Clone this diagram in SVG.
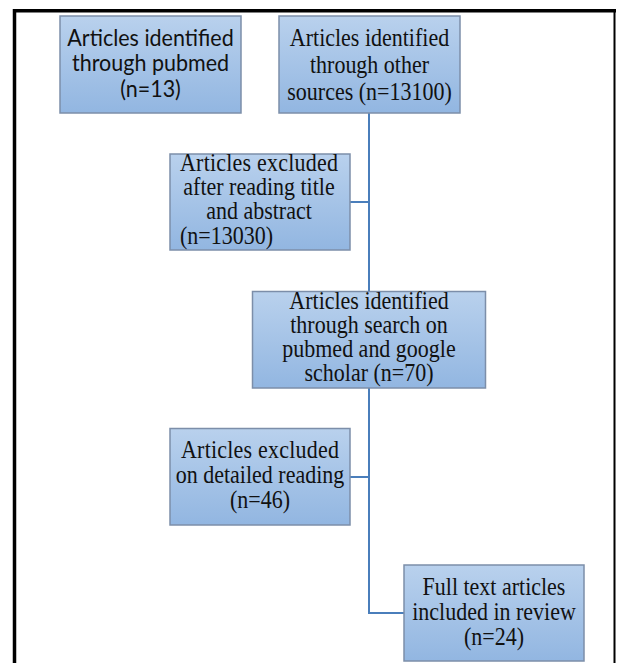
<svg xmlns="http://www.w3.org/2000/svg" width="618" height="663" viewBox="0 0 618 663">
<defs>
<linearGradient id="g" x1="0" y1="0" x2="0" y2="1">
<stop offset="0" stop-color="#b9d1ed"/>
<stop offset="1" stop-color="#92b6e1"/>
</linearGradient>
<style>
.box{fill:url(#g);stroke:#7c8ea9;stroke-width:1.5}
.t{font-family:"Liberation Serif","Times New Roman",serif;font-size:22px;fill:#111;text-anchor:middle}
.l{text-anchor:start}
.s{font-family:Lato,"Liberation Sans",sans-serif;font-size:21.5px;fill:#111;text-anchor:middle}
.c{stroke:#4a7ebb;stroke-width:2;fill:none}
</style>
</defs>
<rect width="618" height="663" fill="#fff"/>
<g id="frame" stroke="#000" fill="none">
<line x1="14.5" y1="9" x2="14.5" y2="663" stroke-width="3.5"/>
<line x1="13" y1="10.8" x2="616" y2="10.8" stroke-width="3.5"/>
<line x1="614.5" y1="10" x2="614.5" y2="663" stroke-width="2"/>
</g>
<g id="connectors" class="c">
<path d="M369 113 V291"/>
<path d="M350 202 H369"/>
<path d="M369 388 V613 H404"/>
<path d="M350 477 H369"/>
</g>
<g id="n1">
<rect class="box" x="60" y="16" width="181" height="97"/>
<text class="s" transform="translate(150.5,46) scale(1,1.05)">Articles identified</text>
<text class="s" transform="translate(150.5,71) scale(1,1.05)">through pubmed</text>
<text class="s" transform="translate(150.5,97) scale(1,1.05)">(n=13)</text>
</g>
<g id="n2">
<rect class="box" x="279" y="16" width="181" height="97"/>
<text class="t" transform="translate(369.5,46) scale(1,1.1)">Articles identified</text>
<text class="t" transform="translate(369.5,73) scale(1,1.1)">through other</text>
<text class="t" transform="translate(369.5,100) scale(1,1.1)">sources (n=13100)</text>
</g>
<g id="n3">
<rect class="box" x="170" y="154" width="180" height="96"/>
<text class="t" transform="translate(259,171) scale(1,1.1)" textLength="158" lengthAdjust="spacing">Articles excluded</text>
<text class="t" transform="translate(259,195) scale(1,1.1)">after reading title</text>
<text class="t" transform="translate(259,219) scale(1,1.1)">and abstract</text>
<text class="t l" transform="translate(180,244) scale(1,1.1)">(n=13030)</text>
</g>
<g id="n4">
<rect class="box" x="252.5" y="291.5" width="233" height="96.5"/>
<text class="t" transform="translate(369,309) scale(1,1.1)">Articles identified</text>
<text class="t" transform="translate(369,333) scale(1,1.1)">through search on</text>
<text class="t" transform="translate(369,357) scale(1,1.1)">pubmed and google</text>
<text class="t" transform="translate(369,381) scale(1,1.1)">scholar (n=70)</text>
</g>
<g id="n5">
<rect class="box" x="170" y="428.5" width="180" height="96.5"/>
<text class="t" transform="translate(260,458) scale(1,1.1)" textLength="158" lengthAdjust="spacing">Articles excluded</text>
<text class="t" transform="translate(260,483) scale(1,1.1)">on detailed reading</text>
<text class="t" transform="translate(260,508) scale(1,1.1)">(n=46)</text>
</g>
<g id="n6">
<rect class="box" x="404" y="565" width="180" height="96"/>
<text class="t" transform="translate(494,595) scale(1,1.1)">Full text articles</text>
<text class="t" transform="translate(494,620) scale(1,1.1)">included in review</text>
<text class="t" transform="translate(494,645) scale(1,1.1)">(n=24)</text>
</g>
</svg>
